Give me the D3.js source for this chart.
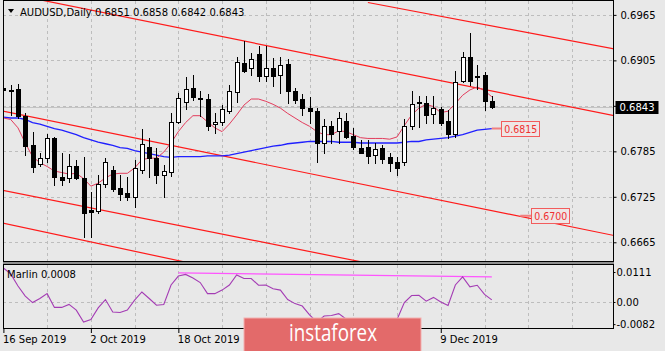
<!DOCTYPE html>
<html>
<head>
<meta charset="utf-8">
<script src="https://cdn.jsdelivr.net/npm/d3@7"></script>
<style>
  body { margin: 0; background: #e8e8e8; }
  svg { display: block; font-family: "DejaVu Sans", sans-serif; font-size: 10px; }
</style>
</head>
<body>
<svg width="665" height="351"></svg>
<script>
// daily bars, AUDUSD 16 Sep 2019 .. 18 Dec 2019
var dates = ["2019-09-16","2019-09-17","2019-09-18","2019-09-19","2019-09-20","2019-09-23","2019-09-24","2019-09-25","2019-09-26","2019-09-27",
  "2019-09-30","2019-10-01","2019-10-02","2019-10-03","2019-10-04","2019-10-07","2019-10-08","2019-10-09","2019-10-10","2019-10-11",
  "2019-10-14","2019-10-15","2019-10-16","2019-10-17","2019-10-18","2019-10-21","2019-10-22","2019-10-23","2019-10-24","2019-10-25",
  "2019-10-28","2019-10-29","2019-10-30","2019-10-31","2019-11-01","2019-11-04","2019-11-05","2019-11-06","2019-11-07","2019-11-08",
  "2019-11-11","2019-11-12","2019-11-13","2019-11-14","2019-11-15","2019-11-18","2019-11-19","2019-11-20","2019-11-21","2019-11-22",
  "2019-11-25","2019-11-26","2019-11-27","2019-11-28","2019-11-29","2019-12-02","2019-12-03","2019-12-04","2019-12-05","2019-12-06",
  "2019-12-09","2019-12-10","2019-12-11","2019-12-12","2019-12-13","2019-12-16","2019-12-17","2019-12-18"];

var open = [0.6869,0.6866,0.6867,0.6831,0.6794,0.6768,0.6775,0.6802,0.6751,0.6749,
  0.6766,0.6750,0.6708,0.6706,0.6742,0.6761,0.6737,0.6730,0.6725,0.6761,
  0.6791,0.6776,0.6754,0.6758,0.6824,0.6850,0.6869,0.6856,0.6854,0.6821,
  0.6824,0.6837,0.6864,0.6902,0.6895,0.6914,0.6885,0.6895,0.6886,0.6900,
  0.6864,0.6854,0.6842,0.6838,0.6796,0.6819,0.6812,0.6825,0.6805,0.6790,
  0.6791,0.6780,0.6790,0.6778,0.6771,0.6771,0.6819,0.6850,0.6849,0.6834,
  0.6841,0.6825,0.6809,0.6878,0.6910,0.6885,0.6886,0.6851];
var high = [0.6886,0.6873,0.6874,0.6836,0.6811,0.6783,0.6808,0.6804,0.6783,0.6782,
  0.6773,0.6778,0.6732,0.6754,0.6776,0.6766,0.6754,0.6751,0.6774,0.6815,
  0.6803,0.6790,0.6767,0.6836,0.6862,0.6883,0.6886,0.6864,0.6860,0.6836,
  0.6846,0.6873,0.6910,0.6931,0.6915,0.6924,0.6924,0.6908,0.6910,0.6907,
  0.6869,0.6860,0.6857,0.6842,0.6827,0.6825,0.6837,0.6836,0.6816,0.6800,
  0.6800,0.6796,0.6794,0.6783,0.6778,0.6828,0.6864,0.6858,0.6858,0.6858,
  0.6844,0.6840,0.6891,0.6916,0.6941,0.6899,0.6890,0.6858];
var low = [0.6864,0.6833,0.6829,0.6780,0.6758,0.6766,0.6771,0.6740,0.6740,0.6745,
  0.6749,0.6672,0.6672,0.6704,0.6738,0.6733,0.6721,0.6721,0.6712,0.6757,
  0.6751,0.6743,0.6725,0.6753,0.6823,0.6841,0.6853,0.6831,0.6813,0.6809,
  0.6820,0.6836,0.6850,0.6890,0.6886,0.6878,0.6878,0.6871,0.6862,0.6849,
  0.6849,0.6833,0.6823,0.6771,0.6783,0.6796,0.6796,0.6803,0.6788,0.6783,
  0.6770,0.6770,0.6770,0.6759,0.6754,0.6767,0.6815,0.6817,0.6823,0.6823,
  0.6820,0.6803,0.6804,0.6877,0.6873,0.6867,0.6840,0.6842];
var close = [0.6866,0.6865,0.6831,0.6792,0.6765,0.6776,0.6802,0.6751,0.6747,0.6765,
  0.6750,0.6704,0.6705,0.6742,0.6771,0.6736,0.6729,0.6725,0.6763,0.6795,
  0.6776,0.6753,0.6759,0.6824,0.6856,0.6867,0.6857,0.6855,0.6819,0.6824,
  0.6841,0.6864,0.6903,0.6891,0.6907,0.6885,0.6895,0.6885,0.6899,0.6865,
  0.6852,0.6842,0.6838,0.6796,0.6819,0.6809,0.6829,0.6804,0.6790,0.6784,
  0.6779,0.6788,0.6776,0.6770,0.6763,0.6819,0.6848,0.6849,0.6833,0.6842,
  0.6823,0.6808,0.6877,0.6910,0.6878,0.6884,0.6852,0.6843];

// moving averages
var maFast = [0.6829,0.6827,0.6816,0.6796,0.6778,0.6770,0.6765,0.6759,0.6757,0.6755,
  0.6756,0.6749,0.6739,0.6743,0.6750,0.6755,0.6756,0.6756,0.6763,0.6774,
  0.6776,0.6776,0.6784,0.6796,0.6811,0.6823,0.6832,0.6832,0.6824,0.6816,
  0.6811,0.6821,0.6833,0.6846,0.6854,0.6854,0.6851,0.6847,0.6842,0.6835,
  0.6829,0.6823,0.6818,0.6811,0.6807,0.6807,0.6812,0.6811,0.6807,0.6803,
  0.6802,0.6802,0.6802,0.6801,0.6804,0.6819,0.6833,0.6842,0.6847,0.6844,
  0.6836,0.6838,0.6848,0.6859,0.6866,0.6870,0.6865,0.6857];
var maSlow = [0.6830,0.6829,0.6829,0.6827,0.6823,0.6821,0.6818,0.6815,0.6813,0.6810,
  0.6807,0.6803,0.6800,0.6797,0.6795,0.6793,0.6790,0.6789,0.6786,0.6784,
  0.6782,0.6780,0.6778,0.6777,0.6778,0.6778,0.6778,0.6778,0.6779,0.6779,
  0.6779,0.6780,0.6782,0.6784,0.6786,0.6788,0.6790,0.6792,0.6793,0.6795,
  0.6796,0.6797,0.6798,0.6798,0.6798,0.6798,0.6797,0.6797,0.6797,0.6796,
  0.6796,0.6796,0.6796,0.6796,0.6796,0.6797,0.6798,0.6798,0.6800,0.6801,
  0.6802,0.6803,0.6805,0.6807,0.6810,0.6813,0.6814,0.6815];

// Marlin oscillator (lower window)
var marlin = [0.0126,0.0104,0.0059,0.0022,-0.0002,0.0013,0.0031,-0.0020,-0.0020,-0.0009,
  -0.0030,-0.0074,-0.0065,-0.0022,0.0009,-0.0037,-0.0039,-0.0030,0.0007,0.0037,
  0.0013,-0.0012,-0.0009,0.0063,0.0096,0.0102,0.0089,0.0072,0.0031,0.0031,
  0.0044,0.0063,0.0100,0.0087,0.0087,0.0062,0.0063,0.0049,0.0044,0.0009,
  -0.0006,-0.0015,-0.0048,-0.0074,-0.0052,-0.0050,-0.0043,-0.0063,-0.0085,-0.0093,
  -0.0093,-0.0089,-0.0085,-0.0078,-0.0065,-0.0002,0.0024,0.0025,0.0003,0.0017,
  0.0000,-0.0013,0.0063,0.0093,0.0056,0.0062,0.0028,0.0008];
var marlinTrend = [[24, 0.0108], [67, 0.0093]];

// channel lines drawn on the chart: [bar, price] end points
var channels = [
  [[-1, 0.69966], [84, 0.68315]],
  [[50, 0.69813], [84, 0.69197]],
  [[-1, 0.68398], [84, 0.66735]],
  [[-1, 0.67352], [60, 0.66183]],
  [[-1, 0.66921], [40, 0.66080]]
];

// price tags: price, bar where the leader starts, bar where the tag starts
var tagPrices = [0.6815, 0.6700];
var tagFrom = [67, 70.9];
var tagAt = [68.3, 72.4];

var priceTicks = [0.6965, 0.6905, 0.6845, 0.6785, 0.6725, 0.6665];
var priceTickLabels = ["0.6965", "0.6905", "", "0.6785", "0.6725", "0.6665"]; // 0.6845 sits under the last-price box
var marlinTicks = [0.0111, 0, -0.0082];
var marlinTickLabels = ["0.0111", "0.00", "-0.0082"];
var dateTickBars = [0, 12, 24, 36, 48, 60];
var dateTickShown = [true, true, true, false, false, true]; // two are hidden by the watermark
var header = ["AUDUSD,Daily", "0.6851", "0.6858", "0.6842", "0.6843"];
var lastPrice = 0.6843;

var svg = d3.select("svg"),
    left = 3, right = 613.5,
    mainTop = 1, mainBottom = 262,
    indTop = 265, indBottom = 329;

svg.append("rect").attr("width", 665).attr("height", 351).attr("fill", "#e8e8e8");

// scales
var x = d3.scaleLinear().domain([0, 67]).range([3.4, 491.8]);
var y = d3.scaleLinear().domain([0.6639, 0.6982]).range([262, 2]);
var yi = d3.scaleLinear().domain([-0.0100, 0.0137]).range([329, 265]);

var defs = svg.append("defs");
defs.append("clipPath").attr("id", "clipMain").append("rect")
    .attr("x", left).attr("y", mainTop).attr("width", right - left).attr("height", mainBottom - mainTop);
defs.append("clipPath").attr("id", "clipInd").append("rect")
    .attr("x", left).attr("y", indTop).attr("width", right - left).attr("height", indBottom - indTop);

var crisp = function(v) { return Math.round(v) + 0.5; };
var gridBars = d3.range(0, 85, 6);

// ---- main window ----
var g = svg.append("g").attr("clip-path", "url(#clipMain)");

g.selectAll(".hgrid").data(priceTicks).enter().append("line")
    .attr("x1", left).attr("x2", right)
    .attr("y1", function(d) { return crisp(y(d)); }).attr("y2", function(d) { return crisp(y(d)); })
    .attr("stroke", "#bdbdbd").attr("stroke-dasharray", "3,3");
g.selectAll(".vgrid").data(gridBars).enter().append("line")
    .attr("x1", function(d) { return crisp(x(d)); }).attr("x2", function(d) { return crisp(x(d)); })
    .attr("y1", mainTop).attr("y2", mainBottom)
    .attr("stroke", "#bdbdbd").attr("stroke-dasharray", "3,3");

// bid line
g.append("line")
    .attr("x1", left).attr("x2", right)
    .attr("y1", crisp(y(lastPrice))).attr("y2", crisp(y(lastPrice)))
    .attr("stroke", "#c4c4c4");

// channel lines
g.selectAll(".chan").data(channels).enter().append("line")
    .attr("x1", function(d) { return x(d[0][0]); }).attr("y1", function(d) { return y(d[0][1]); })
    .attr("x2", function(d) { return x(d[1][0]); }).attr("y2", function(d) { return y(d[1][1]); })
    .attr("stroke", "#ff1a1a").attr("stroke-width", 1.2);

// moving averages
var idx = d3.range(open.length);
var lineOf = function(arr) {
  return d3.line().x(function(i) { return x(i); }).y(function(i) { return y(arr[i]); });
};
g.append("path").attr("d", lineOf(maSlow)(idx))
    .attr("fill", "none").attr("stroke", "#2020ff").attr("stroke-width", 1.3);
g.append("path").attr("d", lineOf(maFast)(idx))
    .attr("fill", "none").attr("stroke", "#e23c5c").attr("stroke-width", 1);

// candles
var candle = g.selectAll(".candle").data(idx).enter().append("g");
candle.append("line")
    .attr("x1", function(i) { return crisp(x(i)); }).attr("x2", function(i) { return crisp(x(i)); })
    .attr("y1", function(i) { return Math.round(y(high[i])); })
    .attr("y2", function(i) { return Math.round(y(low[i])) + 1; })
    .attr("stroke", "#000");
candle.append("rect")
    .attr("x", function(i) { return Math.round(x(i)) - 1.5; })
    .attr("width", 4)
    .attr("y", function(i) { return crisp(y(Math.max(open[i], close[i]))); })
    .attr("height", function(i) { return Math.max(1, Math.round(Math.abs(y(open[i]) - y(close[i])))); })
    .attr("fill", function(i) { return close[i] > open[i] ? "#fff" : "#000"; })
    .attr("stroke", "#000");

// price tags
tagPrices.forEach(function(p, k) {
  var yy = y(p);
  g.append("line")
      .attr("x1", x(tagFrom[k])).attr("x2", x(tagAt[k]))
      .attr("y1", yy).attr("y2", yy)
      .attr("stroke", "#f08080").attr("stroke-width", 2);
  g.append("rect")
      .attr("x", Math.round(x(tagAt[k])) + 0.5).attr("y", Math.round(yy) - 7.5)
      .attr("width", 38).attr("height", 15)
      .attr("fill", "#eee6e6").attr("stroke", "#f25c5c");
  g.append("text")
      .attr("x", x(tagAt[k]) + 3).attr("y", yy + 4)
      .attr("fill", "#ee3030").attr("font-size", "10.5px")
      .attr("textLength", 33).attr("lengthAdjust", "spacingAndGlyphs")
      .text(d3.format(".4f")(p));
});

// frame
svg.append("rect")
    .attr("x", left + 0.5).attr("y", mainTop - 0.5)
    .attr("width", right - left - 0.5).attr("height", mainBottom - mainTop)
    .attr("fill", "none").attr("stroke", "#000");

// price axis
var yAxis = svg.append("g")
    .attr("transform", "translate(" + right + ",0)")
    .call(d3.axisRight(y).tickValues(priceTicks).tickSize(3).tickPadding(4)
      .tickFormat(function(d, k) { return priceTickLabels[k]; }));
yAxis.select(".domain").remove();
yAxis.selectAll("text").attr("font-family", "DejaVu Sans").attr("font-size", "10px").attr("fill", "#000");

// last price box
svg.append("rect")
    .attr("x", right + 2).attr("y", Math.round(y(lastPrice)) - 6)
    .attr("width", 43).attr("height", 13).attr("fill", "#000");
svg.append("text")
    .attr("x", right + 6).attr("y", y(lastPrice) + 4)
    .attr("fill", "#fff").text(d3.format(".4f")(lastPrice));

// header
svg.append("path").attr("d", "M8,9 L14,9 L11,13 Z").attr("fill", "#000");
svg.append("text").attr("x", 20).attr("y", 16).attr("fill", "#000")
    .text(header[0] + "  " + header.slice(1).join(" "));

// ---- separator ----
svg.append("rect").attr("x", left).attr("y", mainBottom).attr("width", right - left + 0.5)
    .attr("height", indTop - mainBottom).attr("fill", "#8f8f8f");

// ---- indicator window ----
var gi = svg.append("g").attr("clip-path", "url(#clipInd)");
gi.append("line")
    .attr("x1", left).attr("x2", right)
    .attr("y1", crisp(yi(0))).attr("y2", crisp(yi(0)))
    .attr("stroke", "#bdbdbd").attr("stroke-dasharray", "3,3");
gi.selectAll(".vgrid").data(gridBars).enter().append("line")
    .attr("x1", function(d) { return crisp(x(d)); }).attr("x2", function(d) { return crisp(x(d)); })
    .attr("y1", indTop).attr("y2", indBottom)
    .attr("stroke", "#bdbdbd").attr("stroke-dasharray", "3,3");

gi.append("line")
    .attr("x1", x(marlinTrend[0][0])).attr("y1", yi(marlinTrend[0][1]))
    .attr("x2", x(marlinTrend[1][0])).attr("y2", yi(marlinTrend[1][1]))
    .attr("stroke", "#ff55ff").attr("stroke-width", 1.3);

gi.append("path")
    .attr("d", d3.line().x(function(i) { return x(i); }).y(function(i) { return yi(marlin[i]); })(idx))
    .attr("fill", "none").attr("stroke", "#a43cb4").attr("stroke-width", 1.1);

svg.append("text").attr("x", 7).attr("y", 278).attr("fill", "#000")
    .text("Marlin " + d3.format(".4f")(marlin[marlin.length - 1]));

svg.append("rect")
    .attr("x", left + 0.5).attr("y", indTop - 0.5)
    .attr("width", right - left - 0.5).attr("height", indBottom - indTop)
    .attr("fill", "none").attr("stroke", "#000");

var iAxis = svg.append("g")
    .attr("transform", "translate(" + right + ",0)")
    .call(d3.axisRight(yi).tickValues(marlinTicks).tickSize(2).tickPadding(1)
      .tickFormat(function(d, k) { return marlinTickLabels[k]; }));
iAxis.select(".domain").remove();
iAxis.selectAll("text").attr("font-family", "DejaVu Sans").attr("font-size", "10px").attr("fill", "#000");

// date axis
var fmt = d3.timeFormat("%-d %b %Y"), parse = d3.timeParse("%Y-%m-%d");
var xAxis = svg.append("g")
    .attr("transform", "translate(0," + indBottom + ")")
    .call(d3.axisBottom(x).tickValues(dateTickBars).tickSize(4).tickPadding(3)
      .tickFormat(function(i, k) { return dateTickShown[k] ? fmt(parse(dates[i])) : ""; }));
xAxis.select(".domain").remove();
xAxis.selectAll("text").attr("text-anchor", "start").attr("dx", -1)
    .attr("font-family", "DejaVu Sans").attr("font-size", "10px").attr("fill", "#000");

// watermark
svg.append("rect").attr("x", 244).attr("y", 318).attr("width", 177).attr("height", 34)
    .attr("fill", "#e36a6a").attr("stroke", "#f3b0b0");
svg.append("text").attr("x", 333).attr("y", 341).attr("text-anchor", "middle")
    .attr("fill", "#fff").attr("font-family", "Open Sans").attr("font-size", "23px")
    .attr("textLength", 88).attr("lengthAdjust", "spacingAndGlyphs")
    .text("instaforex");
</script>
</body>
</html>
